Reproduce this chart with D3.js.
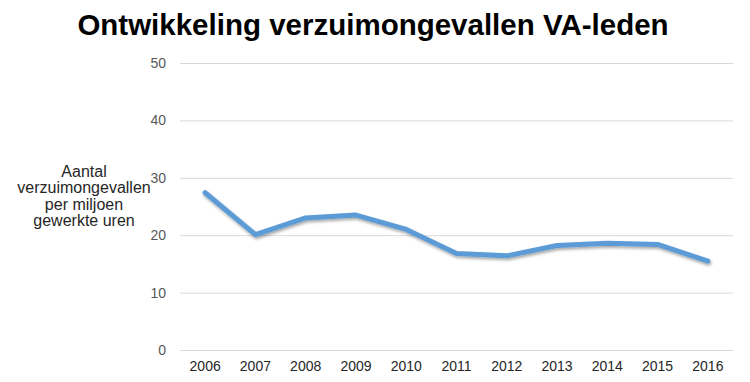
<!DOCTYPE html>
<html><head><meta charset="utf-8">
<script src="https://cdn.jsdelivr.net/npm/d3@7/dist/d3.min.js"></script>
<style>body{margin:0;background:#fff}svg{display:block}</style>
</head><body>
<svg id="c" width="750" height="382"></svg>
<script>
const years = ["2006","2007","2008","2009","2010","2011","2012","2013","2014","2015","2016"];
const values = [27.4, 20.1, 23.0, 23.5, 21.0, 16.8, 16.4, 18.2, 18.6, 18.4, 15.5];
const yTicks = [0, 10, 20, 30, 40, 50];
const yLabelLines = ["Aantal", "verzuimongevallen", "per miljoen", "gewerkte uren"];

const svg = d3.select("#c");
const font = "Liberation Sans, Arial, sans-serif";
const m = {left: 180, right: 733, top: 63, bottom: 350};
const x = d3.scaleBand().domain(years).range([m.left, m.right]);
const y = d3.scaleLinear().domain([0, 50]).range([m.bottom, m.top]);

svg.append("text").attr("x", 373).attr("y", 35).attr("text-anchor", "middle")
  .attr("font-family", font).attr("font-weight", "bold").attr("font-size", 29.5).attr("fill", "#000")
  .text("Ontwikkeling verzuimongevallen VA-leden");

const yAxis = svg.append("g").attr("transform", `translate(${m.left},0)`)
  .call(d3.axisLeft(y).tickValues(yTicks).tickSize(-(m.right - m.left)).tickPadding(14));
yAxis.select(".domain").remove();
yAxis.selectAll("line").attr("stroke", "#d9d9d9").attr("stroke-width", 1);
yAxis.selectAll("text").attr("font-family", font).attr("font-size", 14).attr("fill", "#595959");

const xAxis = svg.append("g").attr("transform", `translate(0,${m.bottom})`)
  .call(d3.axisBottom(x).tickSize(0).tickPadding(11));
xAxis.select(".domain").remove();
xAxis.selectAll("text").attr("font-family", font).attr("font-size", 14).attr("fill", "#262626");

const defs = svg.append("defs");
const f = defs.append("filter").attr("id", "sh").attr("x", "-10%").attr("y", "-30%").attr("width", "120%").attr("height", "160%");
f.append("feDropShadow").attr("dx", 1).attr("dy", 2).attr("stdDeviation", 1.5).attr("flood-color", "#000").attr("flood-opacity", 0.35);

const line = d3.line().x((d, i) => x(years[i]) + x.bandwidth() / 2).y(d => y(d));
svg.append("path").datum(values).attr("d", line).attr("fill", "none")
  .attr("stroke", "#5b9bd5").attr("stroke-width", 5).attr("stroke-linejoin", "round").attr("stroke-linecap", "round")
  .attr("filter", "url(#sh)");

const yl = svg.append("text").attr("font-family", font).attr("font-size", 16).attr("fill", "#262626").attr("text-anchor", "middle");
yLabelLines.forEach((t, i) => yl.append("tspan").attr("x", 84).attr("y", 177 + i * 16.3).text(t));
</script>
</body></html>
